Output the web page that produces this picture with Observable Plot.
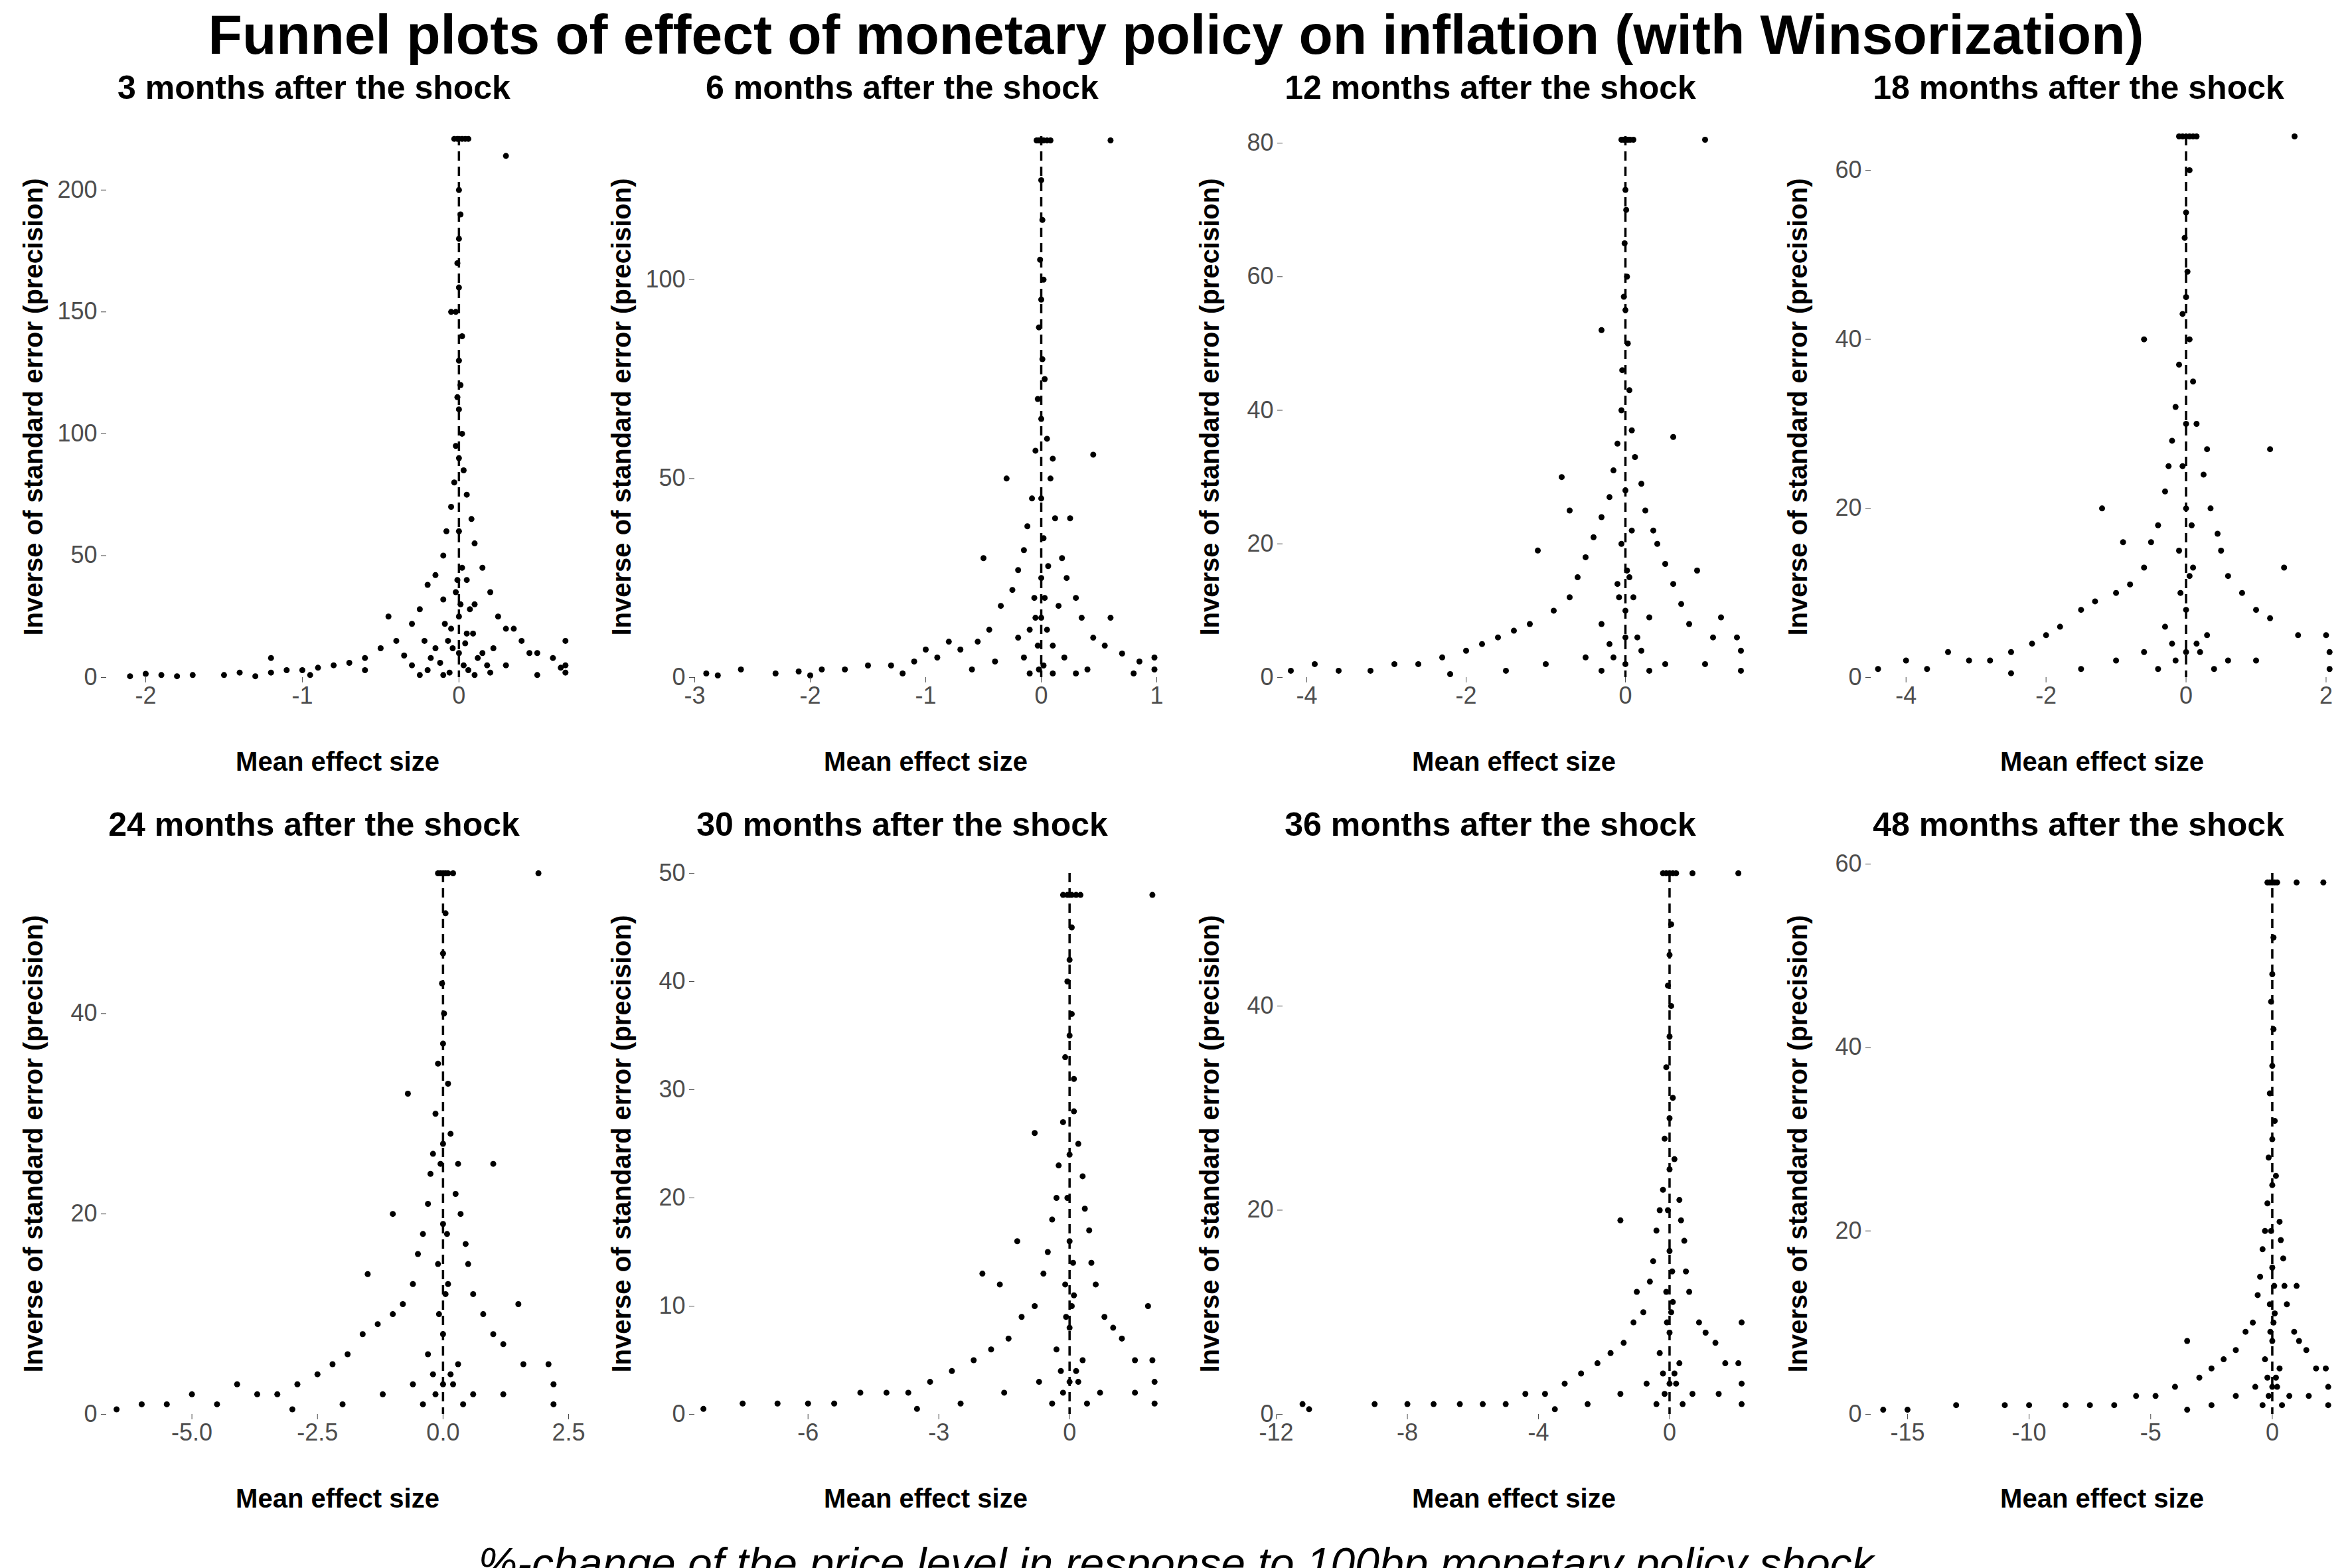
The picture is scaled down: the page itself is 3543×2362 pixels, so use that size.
<!DOCTYPE html>
<html><head><meta charset="utf-8">
<script src="https://cdn.jsdelivr.net/npm/d3@7"></script>
<script src="https://cdn.jsdelivr.net/npm/@observablehq/plot@0.6"></script>
<style>
body{margin:0;background:#fff;font-family:"Liberation Sans",Arial,sans-serif;width:3543px;height:2362px;overflow:hidden}
#title{height:105px;text-align:center;font-weight:bold;font-size:84px;line-height:105px}
#grid{display:grid;grid-template-columns:repeat(4,886px)}
.pt{text-align:center;font-weight:bold;font-size:50px;height:55px;line-height:55px;padding-left:60px}
#cap{text-align:center;font-style:italic;font-size:66px;line-height:60px}
</style></head><body>
<div id="title">Funnel plots of effect of monetary policy on inflation (with Winsorization)</div>
<div id="grid"></div>
<div id="cap">%-change of the price level in response to 100bp monetary policy shock</div>
<script>
const titles = ["3 months after the shock","6 months after the shock","12 months after the shock","18 months after the shock","24 months after the shock","30 months after the shock","36 months after the shock","48 months after the shock"];
const xDomains = [[-2.25,0.7],[-3,1],[-4.3,1.5],[-4.5,2.1],[-6.7,2.5],[-8.6,2],[-11.8,2.3],[-16.5,2.5]];
const yDomains = [[0,222],[0,136],[0,81],[0,64],[0,54],[0,50],[0,53],[0,59]];
const xTicks = [[-2,-1,0],[-3,-2,-1,0,1],[-4,-2,0],[-4,-2,0,2],[-5,-2.5,0,2.5],[-6,-3,0],[-12,-8,-4,0],[-15,-10,-5,0]];
const yTicks = [[0,50,100,150,200],[0,50,100],[0,20,40,60,80],[0,20,40,60],[0,20,40],[0,10,20,30,40,50],[0,20,40],[0,20,40,60]];

const m3 = [[-0.03,221],[-0.01,221],[0,221],[0.02,221],[0.04,221],[0.06,221],[0.3,214],[0,200],[0.01,190],[0,180],[-0.01,170],[0,160],[-0.05,150],[-0.02,150],[0.02,140],[0,130],[0.01,120],[-0.01,115],[0,110],[0.02,100],[-0.02,95],[0,90],[0.03,85],[-0.03,80],[0.05,75],[-0.05,70],[0.08,65],[-0.08,60],[0.1,55],[-0.1,50],[0.15,45],[-0.15,42],[0.05,40],[-0.2,38],[0.2,35],[-0.1,32],[0.1,30],[-0.25,28],[0.25,25],[0,25],[-0.3,22],[0.3,20],[-0.05,20],[0.05,18],[-0.4,15],[0.4,15],[-0.5,12],[0.5,10],[-0.15,12],[0.15,10],[-0.6,8],[0.6,8],[-0.7,6],[0.65,4],[-0.8,5],[-0.9,4],[-1,3],[-1.1,3],[-1.2,2],[-1.4,2],[-1.5,1],[-1.7,1],[-1.9,1],[-2.1,0.5],[-0.3,5],[0.3,5],[-0.2,3],[0.2,2],[0.1,1],[-0.1,1],[0.68,15],[0.68,5],[0.68,2],[-0.45,25],[0.45,10],[-1.2,8],[0.35,20],[0,60],[0.02,45],[-0.02,35],[0.07,28],[-0.07,15],[0.12,8],[-0.12,6],[0,10],[0.03,5],[-0.35,9],[-0.6,3],[-0.25,1],[0.5,1],[-2,1.5],[-1.8,0.5],[-1.3,0.5],[-0.95,1],[-0.04,12],[0.04,14],[-0.09,22],[0.09,18],[0.01,30],[-0.01,40],[0.06,3],[-0.06,2],[0.18,5],[-0.18,8],[0.22,12],[-0.22,15]];
const m6 = [[-0.04,135],[-0.02,135],[0,135],[0.02,135],[0.05,135],[0.08,135],[0.6,135],[0,125],[0.01,115],[-0.01,105],[0.02,100],[0,95],[-0.02,88],[0.01,80],[0.03,75],[-0.03,70],[0,65],[0.05,60],[-0.05,57],[0.1,55],[0.45,56],[-0.3,50],[0.08,50],[-0.08,45],[0.12,40],[-0.12,38],[0.02,35],[-0.15,32],[0.18,30],[-0.2,27],[0.22,25],[0,25],[-0.25,22],[0.3,20],[-0.35,18],[0.35,15],[-0.05,15],[0.05,12],[-0.45,12],[0.45,10],[-0.55,9],[0.55,8],[-0.7,7],[0.7,6],[-0.9,5],[0.85,4],[-1.1,4],[-1.3,3],[-1.5,3],[-1.7,2],[-1.9,2],[-2.1,1.5],[-2.3,1],[-2.6,2],[-2.9,1],[-0.5,30],[0.25,40],[-0.2,10],[0.2,5],[-0.4,4],[0.4,2],[0.98,5],[0.98,2],[0.1,1],[-0.1,1],[-0.8,9],[0.6,15],[-1,7],[0,45],[0.03,20],[-0.03,8],[0.15,18],[-0.15,5],[-0.6,2],[0.3,1],[-1.2,1],[-2,0.5],[-2.8,0.5],[0.8,1],[-0.06,20],[0.06,28],[-0.1,12],[0.1,8],[0,15],[0.02,3],[-0.02,2]];
const m12 = [[-0.05,80.5],[-0.02,80.5],[0,80.5],[0.03,80.5],[0.06,80.5],[0.1,80.5],[1,80.5],[0,73],[0.01,70],[-0.01,65],[0.02,60],[-0.02,57],[0,55],[-0.3,52],[0.03,50],[-0.04,46],[0.05,43],[-0.05,40],[0.08,37],[0.6,36],[-0.1,35],[0.12,33],[-0.15,31],[-0.8,30],[0.2,29],[0,28],[-0.2,27],[0.25,25],[-0.3,24],[0.35,22],[-0.4,21],[0.4,20],[-1.1,19],[-0.5,18],[0.5,17],[0.9,16],[-0.6,15],[0.6,14],[-0.1,14],[0.1,12],[-0.7,12],[0.7,11],[-0.9,10],[1.2,9],[-1.2,8],[0.8,8],[-1.4,7],[1.1,6],[-1.6,6],[1.4,6],[-1.8,5],[1.45,4],[-2,4],[-2.3,3],[-2.6,2],[-2.9,2],[-3.2,1],[-3.6,1],[-4.2,1],[-3.9,2],[-0.2,5],[0.2,4],[-0.5,3],[0.5,2],[0,6],[-1,2],[1,2],[1.45,1],[-0.05,20],[0.05,15],[-0.3,8],[0.3,9],[0,10],[-1.5,1],[-2.2,0.5],[0.3,1],[-0.3,1],[-0.7,25],[-0.08,12],[0.08,22],[0.15,6],[-0.15,3],[0,2],[0.02,16]];
const m18 = [[-0.1,64],[-0.05,64],[0,64],[0.05,64],[0.1,64],[0.15,64],[1.55,64],[0.05,60],[0,55],[-0.02,52],[0.02,48],[0,45],[-0.05,43],[-0.6,40],[0.05,40],[-0.1,37],[0.1,35],[-0.15,32],[0.15,30],[0,30],[-0.2,28],[0.3,27],[1.2,27],[-0.25,25],[0.25,24],[-0.3,22],[0.35,20],[-1.2,20],[0,20],[-0.4,18],[0.45,17],[-0.5,16],[0.5,15],[-0.1,15],[0.1,13],[-0.6,13],[0.6,12],[-0.8,11],[0.8,10],[-1,10],[1.4,13],[-1.3,9],[1,8],[-1.5,8],[1.2,7],[-1.8,6],[1.6,5],[-2,5],[2,5],[-2.2,4],[2.05,3],[-2.5,3],[-2.8,2],[-3.1,2],[-3.4,3],[-3.7,1],[-4,2],[-4.4,1],[-0.3,6],[0.3,5],[-0.6,3],[0.6,2],[0,8],[-1,2],[1,2],[2.05,1],[-0.05,25],[0.05,12],[-0.2,4],[0.2,3],[-1.5,1],[-2.5,0.5],[0.4,1],[-0.4,1],[-0.9,16],[-0.08,10],[0.08,18],[0.15,4],[-0.15,2],[0,3]];
const m24 = [[-0.1,54],[-0.05,54],[0,54],[0.05,54],[0.1,54],[0.2,54],[1.9,54],[0.05,50],[0,46],[-0.02,43],[0.02,40],[0,37],[-0.1,35],[-0.7,32],[0.1,33],[-0.15,30],[0.15,28],[0,27],[-0.2,26],[0.3,25],[1,25],[-0.25,24],[0.25,22],[-0.3,21],[0.35,20],[-1,20],[0,19],[-0.4,18],[0.45,17],[-0.5,16],[0.5,15],[-0.1,15],[0.1,13],[-0.6,13],[0.6,12],[-0.8,11],[0.8,10],[-1,10],[1.5,11],[-1.3,9],[1,8],[-1.6,8],[1.2,7],[-1.9,6],[1.6,5],[-2.2,5],[2.1,5],[-2.5,4],[2.2,3],[-2.9,3],[-3.3,2],[-3.7,2],[-4.1,3],[-4.5,1],[-5,2],[-5.5,1],[-6,1],[-6.5,0.5],[-0.3,6],[0.3,5],[-0.6,3],[0.6,2],[0,8],[-1.2,2],[1.2,2],[2.2,1],[-0.05,25],[0.05,12],[-0.2,4],[0.2,3],[-2,1],[-3,0.5],[0.4,1],[-0.4,1],[-1.5,14],[-0.08,10],[0.08,18],[0.15,4],[-0.15,2],[0,3]];
const m30 = [[-0.15,48],[-0.05,48],[0,48],[0.05,48],[0.15,48],[0.25,48],[1.9,48],[0.05,45],[0,42],[-0.05,40],[0.05,37],[0,35],[-0.1,33],[0.1,31],[-0.8,26],[0.1,28],[-0.15,27],[0.2,25],[0,24],[-0.25,23],[0.3,22],[-0.3,20],[0.35,19],[-0.4,18],[0.45,17],[-1.2,16],[0,16],[-0.5,15],[0.5,14],[-0.6,13],[-2,13],[0.6,12],[-0.1,12],[0.1,11],[-0.8,10],[1.8,10],[0.8,9],[-1.1,9],[1,8],[-1.4,7],[1.2,7],[-1.8,6],[1.5,5],[-2.2,5],[1.9,5],[-2.7,4],[1.95,3],[-3.2,3],[-3.7,2],[-4.2,2],[-4.8,2],[-5.4,1],[-6,1],[-6.7,1],[-7.5,1],[-8.4,0.5],[-0.3,6],[0.3,5],[-0.7,3],[0.7,2],[0,8],[-1.5,2],[1.5,2],[1.95,1],[-0.05,20],[0.05,10],[-0.2,4],[0.2,3],[-2.5,1],[-3.5,0.5],[0.4,1],[-0.4,1],[-1.6,12],[-0.08,9],[0.08,14],[0.15,4],[-0.15,2],[0,3]];
const m36 = [[-0.2,53],[-0.1,53],[0,53],[0.1,53],[0.2,53],[0.7,53],[2.1,53],[0.05,48],[0,45],[-0.05,42],[0.05,40],[0,37],[-0.1,34],[0.1,31],[0,29],[-0.15,27],[0.15,25],[0,24],[-0.2,22],[0.3,21],[-0.3,20],[0.35,19],[-0.4,18],[-1.5,19],[0.45,17],[0,16],[-0.5,15],[0.5,14],[-0.6,13],[0.6,12],[-1,12],[-0.1,12],[0.1,11],[-0.8,10],[0.9,9],[-1.1,9],[1.1,8],[-1.4,7],[1.4,7],[-1.8,6],[1.7,5],[-2.2,5],[2.1,5],[-2.7,4],[2.2,3],[-3.2,3],[-3.8,2],[-4.4,2],[-5,1],[-5.7,1],[-6.4,1],[-7.2,1],[-8,1],[-9,1],[-11.2,1],[-11,0.5],[-0.3,6],[0.3,5],[-0.7,3],[0.7,2],[0,8],[-1.5,2],[1.5,2],[2.2,1],[-0.05,20],[0.05,10],[-0.2,4],[0.2,3],[-2.5,1],[-3.5,0.5],[0.4,1],[-0.4,1],[2.2,9],[-0.08,9],[0.08,14],[0.15,4],[-0.15,2],[0,3]];
const m48 = [[-0.2,58],[-0.1,58],[0,58],[0.1,58],[0.2,58],[1,58],[2.1,58],[0.05,52],[0,48],[-0.05,45],[0.05,42],[0,38],[-0.1,35],[0.1,32],[0,30],[-0.15,28],[0.15,26],[0,25],[-0.2,23],[0.3,21],[-0.3,20],[0.35,19],[-0.4,18],[0.45,17],[0,16],[-0.5,15],[0.5,14],[1,14],[-0.6,13],[0.6,12],[-0.1,12],[0.1,11],[-0.8,10],[0.9,9],[-1.1,9],[1.1,8],[-1.5,7],[1.4,7],[-2,6],[1.8,5],[-2.5,5],[2.2,5],[-3,4],[-3.5,8],[2.3,3],[-4,3],[-4.8,2],[-5.6,2],[-6.5,1],[-7.5,1],[-8.5,1],[-10,1],[-11,1],[-13,1],[-15,0.5],[-16,0.5],[-0.3,6],[0.3,5],[-0.7,3],[0.7,2],[0,8],[-1.5,2],[1.5,2],[2.3,1],[-0.05,20],[0.05,10],[-0.2,4],[0.2,3],[-2.5,1],[-3.5,0.5],[0.4,1],[-0.4,1],[-0.08,9],[0.08,14],[0.15,4],[-0.15,2],[0,3]];
const series = [m3,m6,m12,m18,m24,m30,m36,m48];

const grid = document.getElementById("grid");
series.forEach((pts, i) => {
  const cell = document.createElement("div");
  const t = document.createElement("div");
  t.className = "pt"; t.textContent = titles[i];
  cell.appendChild(t);
  const fmt = i === 4 ? (d => d.toFixed(1)) : (d => String(d));
  const chart = Plot.plot({
    width: 886, height: 1055,
    marginTop: 45, marginBottom: 195, marginLeft: 160, marginRight: 30,
    style: {fontFamily: "Liberation Sans, Arial, sans-serif", background: "white"},
    x: {domain: xDomains[i]},
    y: {domain: yDomains[i]},
    marks: [
      Plot.ruleX([0], {stroke: "black", strokeWidth: 3.5, strokeDasharray: "14,9"}),
      Plot.dot(pts, {x: d => d[0], y: d => d[1], r: 4.5, fill: "black", stroke: "none"}),
      Plot.axisX({ticks: xTicks[i], tickFormat: fmt, tickSize: 8, tickPadding: 6, fontSize: 36, color: "#4d4d4d",
        label: "Mean effect size", labelAnchor: "center", labelArrow: false, labelOffset: 140}),
      Plot.axisY({ticks: yTicks[i], tickSize: 8, tickPadding: 6, fontSize: 36, color: "#4d4d4d",
        label: "Inverse of standard error (precision)", labelAnchor: "center", labelArrow: false, labelOffset: 125})
    ]
  });
  d3.select(chart).selectAll("[aria-label$='axis label'] text").style("fill", "black").style("font-weight", "bold").style("font-size", "40px");
  cell.appendChild(chart);
  grid.appendChild(cell);
});
</script>
</body></html>
